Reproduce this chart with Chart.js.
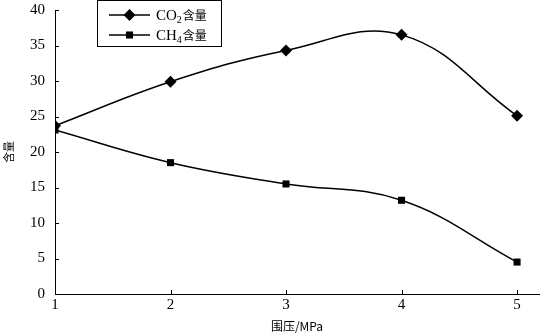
<!DOCTYPE html>
<html>
<head>
<meta charset="utf-8">
<script src="https://cdn.jsdelivr.net/npm/chart.js@4/dist/chart.umd.min.js"></script>
<style>
  html, body { margin: 0; padding: 0; background: #fff; }
  #wrap { width: 545px; height: 335px; position: relative; }
</style>
</head>
<body>
<div id="wrap"><canvas id="c"></canvas></div>
<script>
// 围压 (MPa) 对 CO2 / CH4 含量的影响
const pressure = [1, 2, 3, 4, 5];
const co2 = [23.7, 29.9, 34.3, 36.5, 25.1];
const ch4 = [23.1, 18.5, 15.5, 13.2, 4.5];
const yTicks = [0, 5, 10, 15, 20, 25, 30, 35, 40];

const SERIF = "'Liberation Serif', 'Times New Roman', serif";
const CJK = "'Noto Sans CJK SC', sans-serif";

// 刻度线朝内画(Excel 风格),位置全部取自 scale
const innerTicks = {
  id: "innerTicks",
  afterDraw(chart) {
    const ctx = chart.ctx;
    const xs = chart.scales.x, ys = chart.scales.y;
    ctx.save();
    ctx.strokeStyle = "#000";
    ctx.lineWidth = 1;
    ctx.beginPath();
    for (const v of pressure) {
      const px = Math.round(xs.getPixelForValue(v)) + 0.5;
      ctx.moveTo(px, ys.bottom);
      ctx.lineTo(px, ys.bottom - 4);
    }
    for (const v of yTicks) {
      const py = Math.round(ys.getPixelForValue(v)) + 0.5;
      ctx.moveTo(xs.left, py);
      ctx.lineTo(xs.left + 4, py);
    }
    ctx.stroke();
    ctx.restore();
  },
};

// 图例:带框,线段 + 标记 + 下标化学式
const boxLegend = {
  id: "boxLegend",
  afterDraw(chart) {
    const ctx = chart.ctx;
    ctx.save();
    ctx.strokeStyle = "#000";
    ctx.lineWidth = 1;
    ctx.strokeRect(97.5, 0.5, 124, 46);
    const rows = [
      { y: 15, base: "CO", sub: "2" },
      { y: 35, base: "CH", sub: "4" },
    ];
    rows.forEach(function (r, i) {
      const ds = chart.data.datasets[i];
      ctx.strokeStyle = "#000";
      ctx.lineWidth = 1.5;
      ctx.beginPath();
      ctx.moveTo(109, r.y);
      ctx.lineTo(150, r.y);
      ctx.stroke();
      Chart.helpers.drawPoint(ctx, {
        pointStyle: ds.pointStyle, radius: ds.pointRadius, rotation: 0, borderWidth: 0,
      }, 129.5, r.y);
      ctx.fillStyle = "#000";
      ctx.textBaseline = "alphabetic";
      ctx.font = "15px " + SERIF;
      let x = 156;
      ctx.fillText(r.base, x, r.y + 5);
      x += ctx.measureText(r.base).width;
      ctx.font = "10px " + SERIF;
      ctx.fillText(r.sub, x, r.y + 8);
      x += ctx.measureText(r.sub).width + 1;
      ctx.font = "12px " + CJK;
      ctx.fillText("含量", x, r.y + 5);
    });
    ctx.restore();
  },
};

new Chart(document.getElementById("c"), {
  type: "line",
  data: {
    datasets: [
      {
        label: "CO2含量",
        data: pressure.map((p, i) => ({ x: p, y: co2[i] })),
        borderColor: "#000", backgroundColor: "#000",
        borderWidth: 1.5, pointStyle: "rectRot", pointRadius: 6, pointBorderWidth: 0,
        tension: 0.4,
      },
      {
        label: "CH4含量",
        data: pressure.map((p, i) => ({ x: p, y: ch4[i] })),
        borderColor: "#000", backgroundColor: "#000",
        borderWidth: 1.5, pointStyle: "rect", pointRadius: 5, pointBorderWidth: 0,
        tension: 0.4,
      },
    ],
  },
  options: {
    responsive: true,
    maintainAspectRatio: false,
    animation: false,
    devicePixelRatio: 1,
    layout: { padding: { top: 10, right: 0, left: 0, bottom: 0 } },
    plugins: { legend: { display: false }, tooltip: { enabled: false } },
    scales: {
      x: {
        type: "linear",
        min: 1, max: 5.19, // 轴线画过最后一个刻度
        afterBuildTicks: s => { s.ticks = pressure.map(v => ({ value: v })); },
        afterFit: s => { s.height = 41; s.paddingLeft = 0; s.paddingRight = 0; },
        grid: { display: false, drawTicks: false },
        border: { color: "#000", width: 1 },
        ticks: { color: "#000", padding: 2, font: { family: SERIF, size: 15 } },
        title: { display: true, text: "围压/MPa", color: "#000", padding: { top: 0, bottom: 1 },
                 font: { family: CJK, size: 12 } },
      },
      y: {
        min: 0, max: 40,
        afterBuildTicks: s => { s.ticks = yTicks.map(v => ({ value: v })); },
        afterFit: s => { s.width = 55; s.paddingTop = 0; s.paddingBottom = 0; },
        grid: { display: false, drawTicks: false },
        border: { color: "#000", width: 1 },
        ticks: { color: "#000", padding: 10, font: { family: SERIF, size: 15 } },
        title: { display: true, text: "含量", color: "#000", padding: { top: 2, bottom: 0 },
                 font: { family: CJK, size: 11 } },
      },
    },
  },
  plugins: [innerTicks, boxLegend],
});
</script>
</body>
</html>
